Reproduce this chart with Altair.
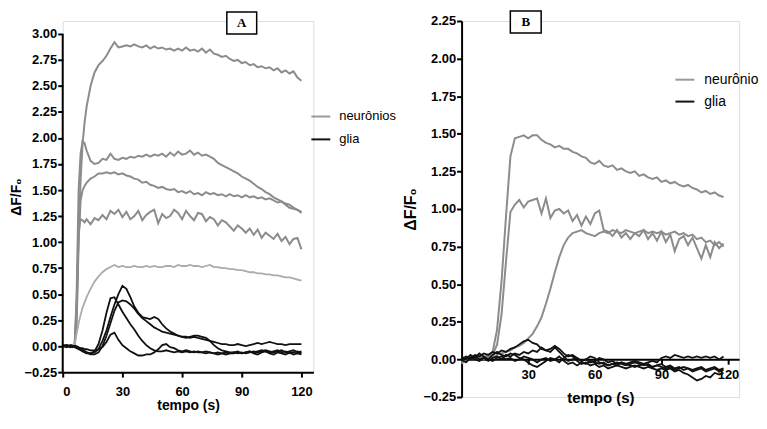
import altair as alt
import pandas as pd

FONT = "Liberation Sans"

# ---------------- Panel A data ----------------
tA = [0, 2, 4, 5, 6, 7, 8, 9, 10, 11, 12, 14, 16, 18, 20, 22, 24, 26, 28, 30, 32, 34, 36, 38, 40,
      42, 44, 46, 48, 50, 52, 54, 56, 58, 60, 62, 64, 66, 68, 70, 72, 74, 76, 78, 80, 82, 84, 86,
      88, 90, 92, 94, 96, 98, 100, 102, 104, 106, 108, 110, 112, 114, 116, 118, 120]

a_n1 = [0.00, 0.01, -0.01, 0.00, 0.01, 0.30, 1.10, 1.60, 1.95, 2.15, 2.30, 2.50, 2.63, 2.70, 2.74,
        2.79, 2.86, 2.92, 2.87, 2.88, 2.89, 2.88, 2.90, 2.88, 2.87, 2.89, 2.86, 2.88, 2.86, 2.87,
        2.85, 2.86, 2.84, 2.86, 2.84, 2.87, 2.84, 2.85, 2.83, 2.86, 2.82, 2.85, 2.81, 2.80, 2.78,
        2.79, 2.76, 2.74, 2.75, 2.72, 2.73, 2.70, 2.71, 2.68, 2.69, 2.67, 2.68, 2.65, 2.67, 2.63,
        2.65, 2.62, 2.64, 2.58, 2.55]
a_n2 = [0.00, 0.01, 0.00, 0.01, 0.00, 0.50, 1.50, 1.85, 1.97, 1.95, 1.88, 1.78, 1.75, 1.76, 1.80,
        1.79, 1.85, 1.80, 1.79, 1.81, 1.80, 1.82, 1.81, 1.83, 1.82, 1.84, 1.82, 1.84, 1.83, 1.85,
        1.82, 1.86, 1.83, 1.87, 1.84, 1.85, 1.88, 1.84, 1.86, 1.83, 1.84, 1.82, 1.80, 1.76, 1.74,
        1.72, 1.70, 1.68, 1.66, 1.63, 1.61, 1.59, 1.56, 1.53, 1.51, 1.48, 1.46, 1.43, 1.41, 1.39,
        1.37, 1.36, 1.33, 1.31, 1.28]
a_n3 = [0.00, -0.01, 0.01, 0.00, 0.00, 0.20, 1.00, 1.40, 1.50, 1.54, 1.57, 1.61, 1.63, 1.66, 1.66,
        1.67, 1.66, 1.67, 1.65, 1.66, 1.64, 1.63, 1.61, 1.60, 1.57, 1.58, 1.55, 1.54, 1.52, 1.53,
        1.51, 1.50, 1.51, 1.48, 1.49, 1.47, 1.49, 1.46, 1.47, 1.45, 1.48, 1.46, 1.47, 1.45, 1.46,
        1.44, 1.46, 1.44, 1.45, 1.43, 1.45, 1.43, 1.44, 1.42, 1.43, 1.41, 1.42, 1.40, 1.38, 1.39,
        1.36, 1.33, 1.32, 1.31, 1.29]
a_n4 = [0.00, 0.01, -0.01, 0.00, 0.01, 0.40, 1.10, 1.22, 1.21, 1.19, 1.22, 1.17, 1.23, 1.21, 1.26,
        1.22, 1.30, 1.27, 1.31, 1.24, 1.29, 1.22, 1.25, 1.30, 1.21, 1.26, 1.29, 1.31, 1.18, 1.27,
        1.23, 1.25, 1.31, 1.28, 1.22, 1.30, 1.25, 1.21, 1.28, 1.27, 1.20, 1.24, 1.22, 1.16, 1.21,
        1.19, 1.15, 1.11, 1.16, 1.13, 1.09, 1.13, 1.07, 1.12, 1.04, 1.09, 1.06, 1.03, 1.08, 1.01,
        1.05, 0.98, 1.03, 1.04, 0.93]
a_n5 = [0.00, 0.01, 0.00, 0.00, 0.02, 0.12, 0.22, 0.30, 0.37, 0.42, 0.47, 0.55, 0.62, 0.67, 0.71,
        0.74, 0.76, 0.78, 0.76, 0.77, 0.76, 0.76, 0.77, 0.76, 0.76, 0.77, 0.76, 0.77, 0.76, 0.76,
        0.77, 0.77, 0.76, 0.78, 0.77, 0.77, 0.78, 0.77, 0.77, 0.76, 0.77, 0.78, 0.76, 0.76, 0.75,
        0.75, 0.74, 0.74, 0.73, 0.73, 0.72, 0.71, 0.71, 0.70, 0.70, 0.69, 0.69, 0.68, 0.68, 0.67,
        0.66, 0.66, 0.65, 0.64, 0.63]

a_g1 = [0.00, 0.01, -0.01, 0.00, 0.00, -0.01, -0.02, -0.03, -0.04, -0.05, -0.06, -0.07, -0.06,
        -0.03, 0.05, 0.15, 0.28, 0.40, 0.50, 0.58, 0.55, 0.47, 0.38, 0.32, 0.28, 0.27, 0.26, 0.28,
        0.26, 0.21, 0.17, 0.14, 0.12, 0.10, 0.09, 0.09, 0.08, 0.09, 0.08, 0.07, 0.06, 0.05, 0.04,
        0.03, 0.02, 0.02, 0.01, 0.01, 0.02, 0.01, 0.00, 0.01, 0.02, 0.03, 0.02, 0.03, 0.04, 0.03,
        0.02, 0.02, 0.01, 0.02, 0.02, 0.02, 0.02]
a_g2 = [0.00, -0.01, 0.01, 0.00, -0.01, -0.02, -0.03, -0.04, -0.05, -0.06, -0.07, -0.07, -0.05,
        0.02, 0.15, 0.32, 0.46, 0.47, 0.40, 0.33, 0.27, 0.21, 0.16, 0.10, 0.05, 0.01, -0.02, -0.04,
        -0.05, -0.05, -0.04, -0.05, -0.06, -0.05, -0.06, -0.05, -0.06, -0.05, -0.06, -0.06, -0.05,
        -0.06, -0.07, -0.06, -0.07, -0.06, -0.07, -0.07, -0.06, -0.07, -0.06, -0.05, -0.06, -0.05,
        -0.04, -0.05, -0.06, -0.05, -0.04, -0.06, -0.05, -0.07, -0.06, -0.05, -0.07]
a_g3 = [0.01, 0.00, -0.01, 0.00, 0.00, -0.01, -0.02, -0.03, -0.04, -0.05, -0.06, -0.08, -0.08,
        -0.06, 0.00, 0.10, 0.22, 0.34, 0.42, 0.44, 0.43, 0.40, 0.36, 0.31, 0.27, 0.24, 0.21, 0.18,
        0.16, 0.14, 0.13, 0.12, 0.11, 0.10, 0.09, 0.08, 0.09, 0.10, 0.10, 0.09, 0.08, 0.05, 0.01,
        -0.02, -0.04, -0.05, -0.06, -0.06, -0.07, -0.06, -0.07, -0.06, -0.05, -0.06, -0.05, -0.04,
        -0.05, -0.06, -0.05, -0.04, -0.06, -0.05, -0.04, -0.06, -0.05]
a_g4 = [0.00, 0.01, 0.00, -0.01, 0.00, 0.00, -0.01, -0.02, -0.02, -0.03, -0.03, -0.04, -0.04,
        -0.03, -0.01, 0.04, 0.11, 0.13, 0.06, 0.01, -0.02, -0.05, -0.07, -0.09, -0.09, -0.08, -0.08,
        -0.06, -0.03, 0.01, 0.02, -0.01, -0.02, -0.04, -0.05, -0.04, -0.05, -0.06, -0.05, -0.06,
        -0.07, -0.06, -0.07, -0.08, -0.07, -0.08, -0.07, -0.06, -0.05, -0.07, -0.06, -0.05, -0.07,
        -0.08, -0.06, -0.05, -0.07, -0.08, -0.06, -0.07, -0.08, -0.06, -0.08, -0.07, -0.08]

# ---------------- Panel B data ----------------
tB = [0, 2, 4, 6, 8, 10, 12, 14, 16, 18, 20, 22, 24, 26, 28, 30, 32, 34, 36, 38, 40, 42, 44, 46,
      48, 50, 52, 54, 56, 58, 60, 62, 64, 66, 68, 70, 72, 74, 76, 78, 80, 82, 84, 86, 88, 90, 92,
      94, 96, 98, 100, 102, 104, 106, 108, 110, 112, 114, 116, 118]

b_n1 = [-0.02, 0.00, 0.01, 0.00, 0.02, 0.01, 0.03, 0.05, 0.20, 0.52, 0.95, 1.35, 1.47, 1.48, 1.49,
        1.47, 1.49, 1.49, 1.46, 1.44, 1.43, 1.41, 1.42, 1.40, 1.40, 1.38, 1.37, 1.35, 1.34, 1.31,
        1.30, 1.32, 1.29, 1.28, 1.29, 1.26, 1.27, 1.25, 1.24, 1.25, 1.22, 1.23, 1.21, 1.20, 1.21,
        1.18, 1.19, 1.17, 1.18, 1.16, 1.15, 1.16, 1.14, 1.13, 1.11, 1.12, 1.10, 1.11, 1.09, 1.08]
b_n2 = [-0.03, 0.00, 0.02, 0.01, 0.00, 0.02, 0.02, 0.03, 0.10, 0.30, 0.65, 0.98, 1.03, 1.06, 1.01,
        1.05, 1.06, 1.07, 0.97, 1.07, 0.94, 0.99, 1.00, 0.97, 0.99, 0.92, 0.96, 0.89, 0.95, 0.90,
        0.97, 0.99, 0.86, 0.85, 0.82, 0.86, 0.81, 0.84, 0.80, 0.84, 0.82, 0.86, 0.80, 0.84, 0.79,
        0.85, 0.78, 0.83, 0.72, 0.80, 0.82, 0.76, 0.81, 0.74, 0.67, 0.76, 0.68, 0.78, 0.74, 0.77]
b_n3 = [-0.02, 0.01, 0.00, 0.02, 0.01, 0.00, 0.02, 0.01, 0.03, 0.04, 0.05, 0.06, 0.08, 0.09, 0.11,
        0.14, 0.17, 0.22, 0.28, 0.37, 0.47, 0.58, 0.68, 0.76, 0.81, 0.84, 0.85, 0.86, 0.84, 0.83,
        0.82, 0.84, 0.85, 0.84, 0.86, 0.85, 0.84, 0.86, 0.85, 0.84, 0.85, 0.86, 0.84, 0.85, 0.84,
        0.85, 0.83, 0.84, 0.85, 0.83, 0.84, 0.82, 0.83, 0.80, 0.81, 0.78, 0.79, 0.76, 0.78, 0.75]

b_g1 = [0.00, 0.02, 0.01, 0.03, 0.02, 0.04, 0.03, 0.05, 0.04, 0.06, 0.05, 0.07, 0.08, 0.10, 0.12,
        0.13, 0.11, 0.10, 0.07, 0.06, 0.05, 0.08, 0.05, 0.02, -0.01, 0.00, 0.01, -0.01, 0.00, -0.02,
        -0.01, 0.01, 0.00, -0.02, -0.01, -0.03, -0.02, -0.03, -0.02, -0.01, -0.02, -0.03, -0.02,
        -0.01, -0.02, 0.01, 0.02, 0.01, 0.03, 0.02, 0.01, 0.02, 0.01, 0.02, 0.01, 0.02, 0.01, 0.02,
        0.00, 0.02]
b_g2 = [0.02, 0.00, 0.03, 0.01, 0.04, 0.02, 0.00, 0.03, 0.05, 0.03, 0.02, 0.04, 0.03, 0.01, 0.00,
        -0.02, -0.04, -0.05, -0.03, -0.01, 0.01, 0.00, -0.02, 0.01, 0.03, 0.02, -0.01, -0.03, -0.02,
        -0.04, -0.03, -0.05, -0.04, -0.06, -0.05, -0.04, -0.05, -0.06, -0.05, -0.04, -0.05, -0.06,
        -0.05, -0.06, -0.07, -0.06, -0.07, -0.06, -0.08, -0.07, -0.09, -0.10, -0.12, -0.14, -0.13,
        -0.11, -0.12, -0.09, -0.10, -0.09]
b_g3 = [-0.01, 0.01, 0.00, 0.02, 0.00, 0.01, -0.01, 0.01, 0.02, 0.00, 0.03, 0.02, 0.04, 0.03, 0.05,
        0.04, 0.06, 0.05, 0.08, 0.06, 0.07, 0.09, 0.07, 0.04, 0.02, 0.03, 0.01, -0.01, 0.00, 0.02,
        0.01, -0.02, -0.03, -0.04, -0.03, -0.04, -0.02, -0.03, -0.04, -0.05, -0.04, -0.03, -0.04,
        -0.05, -0.04, -0.05, -0.06, -0.05, -0.07, -0.06, -0.05, -0.06, -0.07, -0.06, -0.05, -0.07,
        -0.06, -0.05, -0.07, -0.06]
b_g4 = [0.00, -0.02, 0.01, 0.00, -0.01, 0.01, 0.00, -0.01, 0.01, 0.02, 0.00, 0.01, -0.01, 0.00,
        0.02, 0.01, 0.00, -0.02, 0.00, 0.01, -0.01, 0.00, 0.02, -0.01, -0.03, -0.02, -0.04, -0.02,
        -0.03, -0.01, -0.02, -0.03, -0.02, -0.04, -0.03, -0.02, -0.03, -0.04, -0.03, -0.02, -0.03,
        -0.04, -0.03, -0.05, -0.04, -0.03, -0.05, -0.04, -0.06, -0.05, -0.07, -0.06, -0.08, -0.07,
        -0.06, -0.08, -0.07, -0.06, -0.08, -0.07]

A_TICKS_X = [0, 30, 60, 90, 120]
A_TICKS_Y = [-0.25, 0.0, 0.25, 0.5, 0.75, 1.0, 1.25, 1.5, 1.75, 2.0, 2.25, 2.5, 2.75, 3.0]
B_TICKS_X = [30, 60, 90, 120]
B_TICKS_Y = [-0.25, 0.0, 0.25, 0.5, 0.75, 1.0, 1.25, 1.5, 1.75, 2.0, 2.25]


def long_df(t, series):
    rows = []
    for name, vals in series.items():
        for ti, vi in zip(t, vals):
            rows.append({"t": ti, "v": vi, "id": name})
    return pd.DataFrame(rows)


dfA_n = long_df(tA, {"n1": a_n1, "n2": a_n2, "n3": a_n3, "n4": a_n4})
dfA_n5 = long_df(tA, {"n5": a_n5})
dfA_g = long_df(tA, {"g1": a_g1, "g2": a_g2, "g3": a_g3, "g4": a_g4})
dfB_n = long_df(tB, {"n1": b_n1, "n2": b_n2, "n3": b_n3})
dfB_g = long_df(tB, {"g1": b_g1, "g2": b_g2, "g3": b_g3, "g4": b_g4})

GRAY = "#8c8c8c"
LIGHT = "#ababab"
BLACK = "#111111"

axis_common = dict(domainColor="black", domainWidth=2, tickColor="black", tickWidth=2,
                   tickSize=5, grid=False, labelFont=FONT, labelFontWeight="bold",
                   labelColor="black", titleFont=FONT, titleFontWeight="bold",
                   titleColor="black")

# Panel A plot area is extended 13 px above the 3.00 tick so that its top lines up with panel B
A_H = 353
A_TOP_PAD = 13
A_YMAX = 3.0 + 3.25 * A_TOP_PAD / (A_H - A_TOP_PAD)


def enc_A():
    x = alt.X("t:Q", scale=alt.Scale(domain=[0, 126], nice=False, zero=False),
              axis=alt.Axis(values=A_TICKS_X, format="d", title="tempo (s)",
                            labelFontSize=13, titleFontSize=14, labelPadding=8,
                            titlePadding=1, **axis_common))
    y = alt.Y("v:Q", scale=alt.Scale(domain=[-0.25, A_YMAX], nice=False, zero=False),
              axis=alt.Axis(values=A_TICKS_Y, format=".2f", title="ΔF/F₀", domain=False,
                            labelFontSize=13, titleFontSize=14, labelPadding=1,
                            titlePadding=1, **axis_common))
    return x, y


def enc_B():
    x = alt.X("t:Q", scale=alt.Scale(domain=[0, 125], nice=False, zero=False),
              axis=alt.Axis(values=B_TICKS_X, format="d", title="tempo (s)", offset=-38,
                            labelFontSize=13, titleFontSize=15, labelPadding=4,
                            titlePadding=10, **axis_common))
    y = alt.Y("v:Q", scale=alt.Scale(domain=[-0.25, 2.25], nice=False, zero=False),
              axis=alt.Axis(values=B_TICKS_Y, format=".2f", title="ΔF/F₀",
                            labelFontSize=13, titleFontSize=16, labelPadding=1,
                            titlePadding=4, **axis_common))
    return x, y


one = pd.DataFrame({"k": [0]})


def annot(box_x, box_x2, box_y, box_y2, letter, lx, ly1, ly2, tx, labels, lsize):
    cx = (box_x + box_x2) / 2
    cy = (box_y + box_y2) / 2
    box = alt.Chart(one).mark_rect(fill="white", stroke="black", strokeWidth=1.5).encode(
        x=alt.value(box_x), x2=alt.value(box_x2), y=alt.value(box_y), y2=alt.value(box_y2))
    letter_t = alt.Chart(one).mark_text(text=letter, font="Liberation Serif", fontWeight="bold",
                                        fontSize=13, color="black", baseline="middle").encode(
        x=alt.value(cx), y=alt.value(cy))
    r1 = alt.Chart(one).mark_rule(color="#999999", strokeWidth=2).encode(
        x=alt.value(lx), x2=alt.value(lx + 19), y=alt.value(ly1))
    r2 = alt.Chart(one).mark_rule(color=BLACK, strokeWidth=2).encode(
        x=alt.value(lx), x2=alt.value(lx + 19), y=alt.value(ly2))
    t1 = alt.Chart(one).mark_text(text=labels[0], font=FONT, fontSize=lsize, color="black",
                                  align="left", baseline="middle").encode(
        x=alt.value(tx), y=alt.value(ly1))
    t2 = alt.Chart(one).mark_text(text=labels[1], font=FONT, fontSize=lsize, color="black",
                                  align="left", baseline="middle").encode(
        x=alt.value(tx), y=alt.value(ly2))
    return [box, letter_t, r1, r2, t1, t2]


xA, yA = enc_A()
linesA_n = alt.Chart(dfA_n).mark_line(color=GRAY, strokeWidth=2).encode(x=xA, y=yA, detail="id:N")
linesA_n5 = alt.Chart(dfA_n5).mark_line(color=LIGHT, strokeWidth=1.8).encode(x=xA, y=yA, detail="id:N")
linesA_g = alt.Chart(dfA_g).mark_line(color=BLACK, strokeWidth=1.8).encode(x=xA, y=yA, detail="id:N")
# y-axis line of panel A, from the 3.00 tick down to the x axis
axisA = alt.Chart(one).mark_rule(color="black", strokeWidth=2).encode(
    x=alt.value(0), y=alt.value(A_TOP_PAD), y2=alt.value(A_H))

panelA = alt.layer(
    linesA_n, linesA_n5, linesA_g, axisA,
    *annot(165, 195, -9, 13, "A", 250, 96, 119, 278, ["neurônios", "glia"], 13)
).properties(width=252, height=A_H)

xB, yB = enc_B()
linesB_n = alt.Chart(dfB_n).mark_line(color=GRAY, strokeWidth=2).encode(x=xB, y=yB, detail="id:N")
linesB_g = alt.Chart(dfB_g).mark_line(color=BLACK, strokeWidth=1.8).encode(x=xB, y=yB, detail="id:N")

panelB = alt.layer(
    linesB_n, linesB_g,
    *annot(49, 80, -10, 12, "B", 215, 59, 81, 244, ["neurônio", "glia"], 14)
).properties(width=279, height=378)

PAD = {"left": 0, "top": 0, "right": 0, "bottom": 0}
chart = alt.hconcat(panelA, panelB, spacing=5).properties(
    padding=PAD
).configure_view(stroke=None).configure(background="white", padding=PAD)

chart.save("out.html", embed_options={"renderer": "svg", "actions": False})
